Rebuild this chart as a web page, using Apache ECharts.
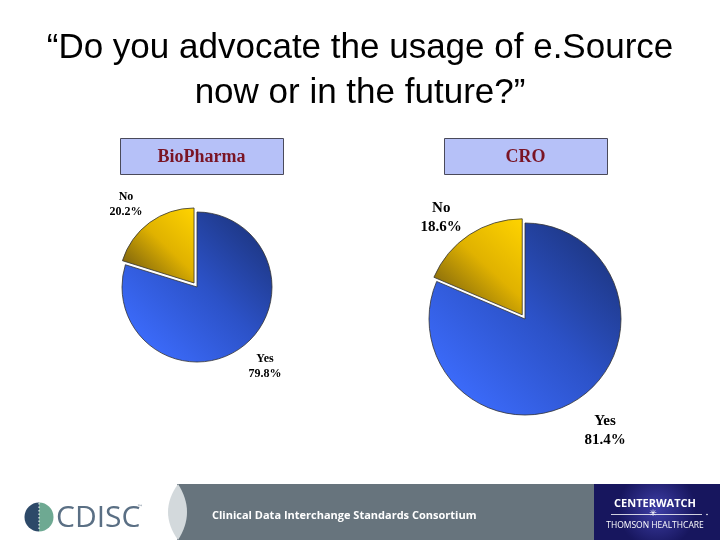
<!DOCTYPE html>
<html>
<head>
<meta charset="utf-8">
<script src="https://cdn.jsdelivr.net/npm/echarts@6/dist/echarts.min.js"></script>
<style>
html,body{margin:0;padding:0;background:#fff;}
#chart{width:720px;height:540px;}
</style>
</head>
<body>
<div id="chart"></div>
<script>
// ---- data ----
const titleLines = ['\u201CDo you advocate the usage of e.Source', 'now or in the future?\u201D'];
const groups = ['BioPharma', 'CRO'];
const answers = ['Yes', 'No'];
const bioPharmaValues = [79.8, 20.2];
const croValues = [81.4, 18.6];
const footerText = 'Clinical Data Interchange Standards Consortium';

// ---- styling / layout ----
const blueGrad = {type:'linear', x:0.95, y:0.05, x2:0.1, y2:0.9, colorStops:[
  {offset:0, color:'#1b3278'},{offset:0.5, color:'#2c52c8'},{offset:1, color:'#3d6dff'}]};
const yellowGrad = {type:'linear', x:1, y:0, x2:0, y2:1, colorStops:[
  {offset:0, color:'#ffd400'},{offset:0.45, color:'#e0b200'},{offset:1, color:'#5e4a12'}]};
const sliceColors = [blueGrad, yellowGrad];

// label target centres (selected slice labels compensated for the explode offset)
const pies = [
  {values: bioPharmaValues, center:[197,287], radius:75, font:12, lh:15,
   labelPos:[[265,366],[129,208.5]]},
  {values: croValues, center:[525,319], radius:96, font:15, lh:19,
   labelPos:[[605,431],[444,222]]}
];

function makeSeries(p, si){
  const serif = '"Liberation Serif", "Times New Roman", serif';
  return {
    type:'pie',
    center:p.center,
    radius:[0,p.radius],
    startAngle:90,
    clockwise:true,
    selectedMode:'single',
    selectedOffset:5,
    silent:true,
    animation:false,
    emphasis:{disabled:true},
    itemStyle:{borderColor:'#333', borderWidth:0.8},
    label:{
      show:true, position:'outside',
      formatter:'{t|{b}}\n{t|{c}%}',
      rich:{t:{width:p.font*3.4, align:'center', fontFamily:serif, fontWeight:'bold',
        fontSize:p.font, lineHeight:p.lh, color:'#000'}}
    },
    labelLine:{show:false},
    labelLayout:function(params){
      const pos = p.labelPos[params.dataIndex];
      const r = params.labelRect;
      return {dx: pos[0] - (r.x + r.width/2), dy: pos[1] - (r.y + r.height/2)};
    },
    data: answers.map((a,i)=>({
      name:a, value:p.values[i], selected: i===1,
      itemStyle:{color:sliceColors[i]}
    }))
  };
}

// lens shape points for footer bar edge
function lensPoints(){
  const pts = [];
  const n = 16;
  for(let i=0;i<=n;i++){ const t=i/n; const y=484+56*t; const x=178-20*t*(1-t)*2; pts.push([x,y]); }
  for(let i=n;i>=0;i--){ const t=i/n; const y=484+56*t; const x=178+18*t*(1-t)*2; pts.push([x,y]); }
  return pts;
}

const boxes = [[120,138],[444,138]];
const graphics = [];
// title
titleLines.forEach((t,i)=>{
  graphics.push({type:'text', style:{x:360, y:48+i*45, text:t, textAlign:'center', textVerticalAlign:'middle',
    font:'35px "Liberation Sans", Arial, sans-serif', fill:'#000'}});
});
// group boxes
groups.forEach((g,i)=>{
  graphics.push({type:'rect', shape:{x:boxes[i][0]+0.5,y:boxes[i][1]+0.5,width:163,height:36},
    style:{fill:'#b6c1f8', stroke:'#4a4a5a', lineWidth:1}});
  graphics.push({type:'text', style:{x:boxes[i][0]+81.5, y:boxes[i][1]+19, text:g, textAlign:'center', textVerticalAlign:'middle',
    font:'bold 18px "Liberation Serif", "Times New Roman", serif', fill:'#7a1424'}});
});
// footer: gray bar
graphics.push({type:'rect', shape:{x:177,y:484,width:420,height:56}, style:{fill:'#67747d'}});
graphics.push({type:'polygon', shape:{points:lensPoints()}, style:{fill:'#d3d9dc'}});
graphics.push({type:'text', style:{x:212, y:516, text:footerText, textAlign:'left', textVerticalAlign:'middle',
  font:'bold 11px "Open Sans", "DejaVu Sans", sans-serif', fill:'#ffffff'}});
// CenterWatch box
graphics.push({type:'rect', shape:{x:594,y:484,width:126,height:56},
  style:{fill:{type:'radial', x:0.5, y:0.45, r:0.7, colorStops:[{offset:0,color:'#3e3ea6'},{offset:1,color:'#17165e'}]}}});
graphics.push({type:'text', style:{x:655, y:504, text:'CENTERWATCH', textAlign:'center', textVerticalAlign:'middle',
  font:'bold 11px "Open Sans", "DejaVu Sans", sans-serif', fill:'#ffffff'}});
graphics.push({type:'line', shape:{x1:611,y1:514.5,x2:702,y2:514.5}, style:{stroke:'#ffffff', lineWidth:0.8}});
graphics.push({type:'circle', shape:{cx:707,cy:514.5,r:0.8}, style:{fill:'#ffffff'}});
graphics.push({type:'text', style:{x:653, y:514, text:'\u2733', textAlign:'center', textVerticalAlign:'middle',
  font:'9px "DejaVu Sans", sans-serif', fill:'#ffffff'}});
graphics.push({type:'text', style:{x:655, y:526, text:'THOMSON HEALTHCARE', textAlign:'center', textVerticalAlign:'middle',
  font:'8.5px "Open Sans", "DejaVu Sans", sans-serif', fill:'#ffffff'}});
// CDISC logo
graphics.push({type:'sector', shape:{cx:39,cy:517,r:14.5,startAngle:Math.PI/2,endAngle:Math.PI*1.5}, style:{fill:'#2d4968'}});
graphics.push({type:'sector', shape:{cx:39,cy:517,r:14.5,startAngle:-Math.PI/2,endAngle:Math.PI/2}, style:{fill:'#6ea992'}});
graphics.push({type:'line', shape:{x1:39,y1:503,x2:39,y2:531}, style:{stroke:'#ffffff', lineWidth:1, lineDash:[1.5,2]}});
graphics.push({type:'text', style:{x:56, y:518, text:'CDISC', textAlign:'left', textVerticalAlign:'middle',
  font:'30px "Open Sans", "Liberation Sans", sans-serif', fill:'#5a6f84'}});
graphics.push({type:'text', style:{x:137, y:507, text:'\u2122', textAlign:'left', textVerticalAlign:'middle',
  font:'6px "DejaVu Sans", sans-serif', fill:'#5a6f84'}});

const chart = echarts.init(document.getElementById('chart'), null, {renderer:'canvas'});
chart.setOption({
  backgroundColor:'#ffffff',
  animation:false,
  series: pies.map(makeSeries),
  graphic: graphics
});
</script>
</body>
</html>
